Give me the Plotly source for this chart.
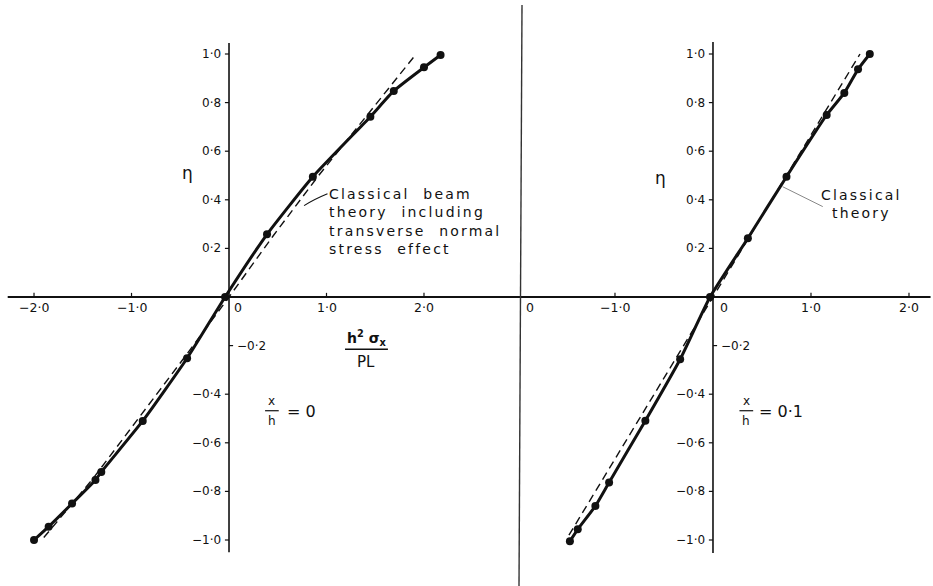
import plotly.graph_objects as go

# --- stress distribution across the depth, x/h = 0 -------------------------
ETA_0 = [-1.0, -0.945, -0.85, -0.753, -0.72, -0.51, -0.252, 0.0,
         0.258, 0.495, 0.742, 0.848, 0.945, 0.996]
SIG_0 = [-2.0, -1.85, -1.61, -1.37, -1.31, -0.885, -0.43, -0.04,
         0.39, 0.86, 1.45, 1.69, 2.0, 2.17]
# classical beam theory including transverse normal stress effect
ETA_0_CL = [-0.99, -0.75, -0.5, -0.25, 0.0, 0.25, 0.5, 0.75, 1.0]
SIG_0_CL = [-1.90, -1.40, -0.93, -0.46, 0.0, 0.45, 0.92, 1.42, 1.92]

# --- stress distribution across the depth, x/h = 0.1 -----------------------
ETA_1 = [-1.005, -0.956, -0.86, -0.763, -0.509, -0.256, 0.0,
         0.242, 0.495, 0.749, 0.84, 0.937, 1.0]
SIG_1 = [-1.46, -1.38, -1.20, -1.06, -0.69, -0.335, -0.03,
         0.356, 0.75, 1.16, 1.34, 1.48, 1.60]
# classical theory
ETA_1_CL = [-0.98, 1.0]
SIG_1_CL = [-1.47, 1.50]

# --- tick labels -----------------------------------------------------------
X_TICKS = [-2.0, -1.0, 1.0, 2.0]
X_LABELS = ["−2·0", "−1·0", "1·0", "2·0"]
X_TICKS_R = [-1.0, 1.0, 2.0]
X_LABELS_R = ["−1·0", "1·0", "2·0"]
Y_TICKS_POS = [0.2, 0.4, 0.6, 0.8, 1.0]
Y_LABELS_POS = ["0·2", "0·4", "0·6", "0·8", "1·0"]
Y_TICKS_NEG = [-0.4, -0.6, -0.8, -1.0]
Y_LABELS_NEG = ["−0·4", "−0·6", "−0·8", "−1·0"]

LABEL_LEFT = ["Classical beam", "theory including",
              "transverse normal", "stress effect"]
LABEL_RIGHT = ["Classical", "theory"]

W, H = 933, 586
SPLIT = 521
INK = "#111111"
FONT = "DejaVu Sans"

fig = go.Figure()

panels = [
    dict(x="x", y="y", sig=SIG_0, eta=ETA_0, sig_cl=SIG_0_CL, eta_cl=ETA_0_CL),
    dict(x="x2", y="y2", sig=SIG_1, eta=ETA_1, sig_cl=SIG_1_CL, eta_cl=ETA_1_CL),
]
for p in panels:
    fig.add_trace(go.Scatter(
        x=p["sig_cl"], y=p["eta_cl"], mode="lines", xaxis=p["x"], yaxis=p["y"],
        line=dict(color=INK, width=1.4, dash="8px,5px"), hoverinfo="skip"))
    fig.add_trace(go.Scatter(
        x=p["sig"], y=p["eta"], mode="lines+markers", xaxis=p["x"], yaxis=p["y"],
        line=dict(color=INK, width=3, shape="spline", smoothing=0.5),
        marker=dict(color=INK, size=8)))

shapes = []
annotations = []


def line(xref, yref, x0, y0, x1, y1, width=1.6, color=INK):
    shapes.append(dict(type="line", xref=xref, yref=yref, x0=x0, y0=y0,
                       x1=x1, y1=y1, line=dict(color=color, width=width)))


def text(xref, yref, x, y, s, size=12, xanchor="center", yanchor="middle",
         align="center", xshift=0, yshift=0, color=INK):
    annotations.append(dict(xref=xref, yref=yref, x=x, y=y, text=s,
                            showarrow=False, xanchor=xanchor, yanchor=yanchor,
                            align=align, xshift=xshift, yshift=yshift,
                            font=dict(family=FONT, size=size, color=color)))


XT = 0.017   # x tick height (y units)
YT = 0.042   # y tick length (x units)

# axes of the left panel
line("x", "y", -2.27, 0, 2.995, 0, width=1.8)
line("x", "y", 0, -1.05, 0, 1.045, width=1.6)
for v, s in zip(X_TICKS, X_LABELS):
    line("x", "y", v, 0, v, XT, width=1.2)
    text("x", "y", v, 0, s, size=12.5, yanchor="top", yshift=-1)
text("x", "y", 0, 0, "0", size=12.5, xanchor="left", yanchor="top", xshift=3, yshift=-1)

# axes of the right panel
line("x2", "y2", -1.959, 0, 2.22, 0, width=1.8)
line("x2", "y2", 0, -1.053, 0, 1.049, width=1.6)
for v, s in zip(X_TICKS_R, X_LABELS_R):
    line("x2", "y2", v, 0, v, XT, width=1.2)
    text("x2", "y2", v, 0, s, size=12.5, yanchor="top", yshift=-1)
text("x2", "y2", 0, 0, "0", size=12.5, xanchor="left", yanchor="top", xshift=5, yshift=-1)
text("x2", "y2", -1.93, 0, "0", size=12.5, xanchor="left", yanchor="top", yshift=-1)

for xr, yr in (("x", "y"), ("x2", "y2")):
    for v, s in zip(Y_TICKS_POS + Y_TICKS_NEG, Y_LABELS_POS + Y_LABELS_NEG):
        line(xr, yr, -YT, v, 0, v, width=1.2)
        text(xr, yr, -YT, v, s, size=12, xanchor="right", xshift=-2)
    line(xr, yr, 0, -0.2, YT, -0.2, width=1.2)
    text(xr, yr, YT, -0.2, "−0·2", size=12, xanchor="left", xshift=2)

# page separator between the two panels
shapes.append(dict(type="line", xref="paper", yref="paper",
                   x0=519 / W, y0=0, x1=522 / W, y1=1 - 5 / H,
                   line=dict(color="#333333", width=1.4)))

# ordinate symbol
text("x", "y", -0.43, 0.51, "η", size=17)
text("x2", "y2", -0.54, 0.49, "η", size=17)

# abscissa quantity h²σx / PL
text("x", "y", 1.415, -0.168, "<b>h<sup>2</sup> σ<sub>x</sub></b>", size=14)
line("x", "y", 1.19, -0.215, 1.63, -0.215, width=1.4)
text("x", "y", 1.40, -0.267, "PL", size=15)

# section labels x/h
text("x", "y", 0.44, -0.43, "x", size=12)
line("x", "y", 0.37, -0.468, 0.51, -0.468, width=1.2)
text("x", "y", 0.44, -0.51, "h", size=12)
text("x", "y", 0.57, -0.47, "= 0", size=16, xanchor="left")

text("x2", "y2", 0.34, -0.43, "x", size=12)
line("x2", "y2", 0.27, -0.468, 0.41, -0.468, width=1.2)
text("x2", "y2", 0.34, -0.51, "h", size=12)
text("x2", "y2", 0.45, -0.47, "= 0·1", size=16, xanchor="left")

# curve labels with leader lines, one annotation per text line
SPACED = '<span style="letter-spacing:2.2px;word-spacing:7px">{}</span>'
LINE_STEP = 0.0765   # about 18.6 px between text lines
for i, s in enumerate(LABEL_LEFT):
    text("x", "y", 1.01, 0.425 - i * LINE_STEP, SPACED.format(s), size=14,
         xanchor="left", align="left")
shapes.append(dict(type="path", xref="x", yref="y",
                   path="M 0.77,0.376 Q 0.86,0.40 1.01,0.425",
                   line=dict(color=INK, width=1.1)))

for i, s in enumerate(LABEL_RIGHT):
    text("x2", "y2", 1.52, 0.421 - i * LINE_STEP, SPACED.format(s), size=14)
line("x2", "y2", 0.71, 0.454, 1.12, 0.372, width=1.0, color="#888888")

fig.update_layout(
    width=W, height=H, margin=dict(l=0, r=0, t=0, b=0),
    paper_bgcolor="white", plot_bgcolor="white", showlegend=False,
    xaxis=dict(domain=[0, SPLIT / W], range=[-2.349, 2.995], visible=False),
    yaxis=dict(domain=[0, 1], range=[-1.1893, 1.2222], visible=False),
    xaxis2=dict(domain=[SPLIT / W, 1], range=[-1.959, 2.245], visible=False,
                anchor="y2"),
    yaxis2=dict(domain=[0, 1], range=[-1.1893, 1.2222], visible=False,
                anchor="x2"),
    shapes=shapes, annotations=annotations,
)

fig.write_html("out.html")
